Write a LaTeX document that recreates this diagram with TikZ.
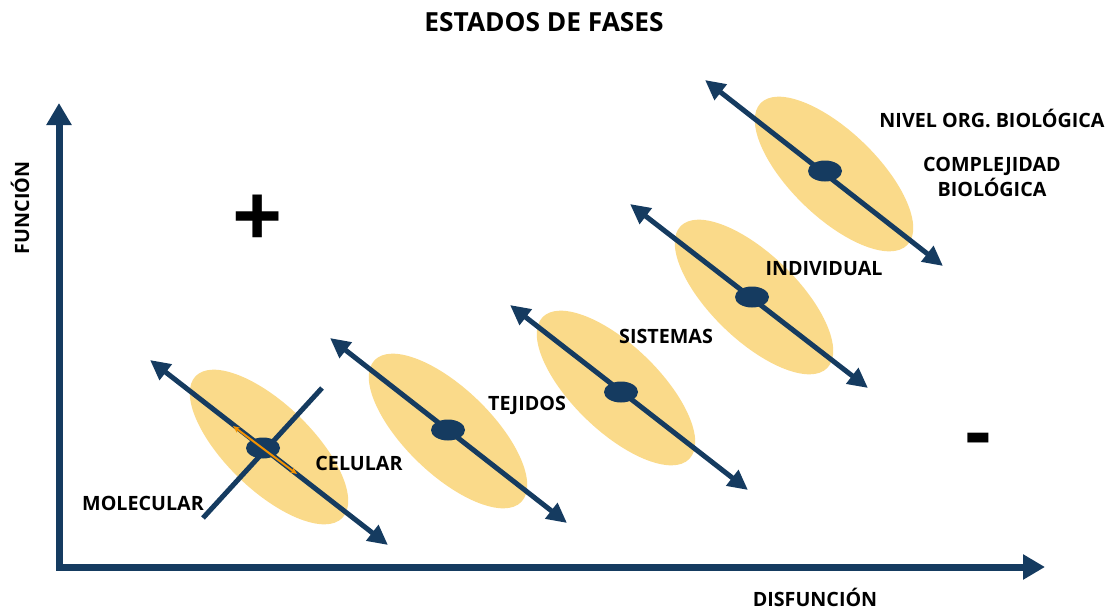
\documentclass[tikz,border=0pt]{standalone}
\usepackage{fontspec}
\setmainfont{Open Sans}
\usetikzlibrary{arrows.meta,shapes.geometric}
\definecolor{navy}{HTML}{153B60}
\definecolor{sand}{HTML}{FADA8A}
\definecolor{orng}{HTML}{F39200}
\begin{document}
\begin{tikzpicture}[x=1pt,y=-1pt,
  blob/.style={ellipse, fill=sand, minimum width=204pt, minimum height=86pt, inner sep=0pt, rotate=-44},
  dot/.style={ellipse, fill=navy, minimum width=34pt, minimum height=21pt, inner sep=0pt},
  dbl/.style={navy, line width=5pt, {Triangle[length=20pt,width=19pt]}-{Triangle[length=20pt,width=19pt]}},
  axis/.style={navy, line width=7pt, {Triangle[length=22pt,width=24pt]}-{Triangle[length=22pt,width=24pt]}},
  lbl/.style={font=\fontsize{19.7}{25}\selectfont\bfseries, inner sep=0pt, align=center},
  ttl/.style={font=\fontsize{26.3}{30}\selectfont\bfseries, inner sep=0pt},
  sgn/.style={font=\fontsize{88}{88}\selectfont\bfseries, inner sep=0pt}
]
\useasboundingbox (0,0) rectangle (1109,611);
% title
\node[ttl] (title) at (544,22) {ESTADOS DE FASES};
% axes
\coordinate (ytip) at (59,103);
\coordinate (orig) at (59,567);
\coordinate (xtip) at (1045,567);
\draw[axis] (ytip) -- (orig) -- (xtip);
\node[lbl, rotate=90] (fun) at (20,208) {FUNCIÓN};
\node[lbl, anchor=base] (disf) at (815,606) {DISFUNCIÓN};
% plus / minus
\node[sgn] (plus) at (258,221) {+};
\node[sgn, font=\fontsize{80}{80}\selectfont\bfseries] (minus) at (978,446) {-};
% ellipses
\node[blob] (e1) at (269,447) {};
\node[blob] (e2) at (448,431) {};
\node[blob] (e3) at (616,388) {};
\node[blob] (e4) at (754,297) {};
\node[blob] (e5) at (834,174) {};
% arrow end points
\coordinate (a1) at (150,360); \coordinate (b1) at (388,545);
\coordinate (a2) at (330,338); \coordinate (b2) at (567,523);
\coordinate (a3) at (510,305); \coordinate (b3) at (748,490);
\coordinate (a4) at (630,204); \coordinate (b4) at (868,388);
\coordinate (a5) at (705,80);  \coordinate (b5) at (943,266);
% cross line
\coordinate (c1) at (203,518); \coordinate (d1) at (322,388);
\draw[navy, line width=5pt] (c1) -- (d1);
\draw[dbl] (a1) -- (b1);
\draw[dbl] (a2) -- (b2);
\draw[dbl] (a3) -- (b3);
\draw[dbl] (a4) -- (b4);
\draw[dbl] (a5) -- (b5);
% dots
\node[dot] (p1) at (263,448) {};
\node[dot] (p2) at (448,430) {};
\node[dot] (p3) at (621,392) {};
\node[dot] (p4) at (752,297) {};
\node[dot] (p5) at (825,171) {};
% orange small arrow
\coordinate (o1) at (233,426); \coordinate (o2) at (297,474);
\draw[orng, line width=2pt, {Stealth[length=7pt,width=6pt]}-{Stealth[length=7pt,width=6pt]}] (o1) -- (o2);
% labels
\node[lbl] (mol) at (143,503) {MOLECULAR};
\node[lbl] (cel) at (359,463) {CELULAR};
\node[lbl] (tej) at (527,405) {TEJIDOS};
\node[lbl] (sis) at (666,336) {SISTEMAS};
\node[lbl] (ind) at (824,269) {INDIVIDUAL};
\node[lbl] (niv) at (992,118) {NIVEL ORG. BIOLÓGICA};
\node[lbl] (comp) at (992,177) {COMPLEJIDAD\\BIOLÓGICA};
\end{tikzpicture}
\end{document}
